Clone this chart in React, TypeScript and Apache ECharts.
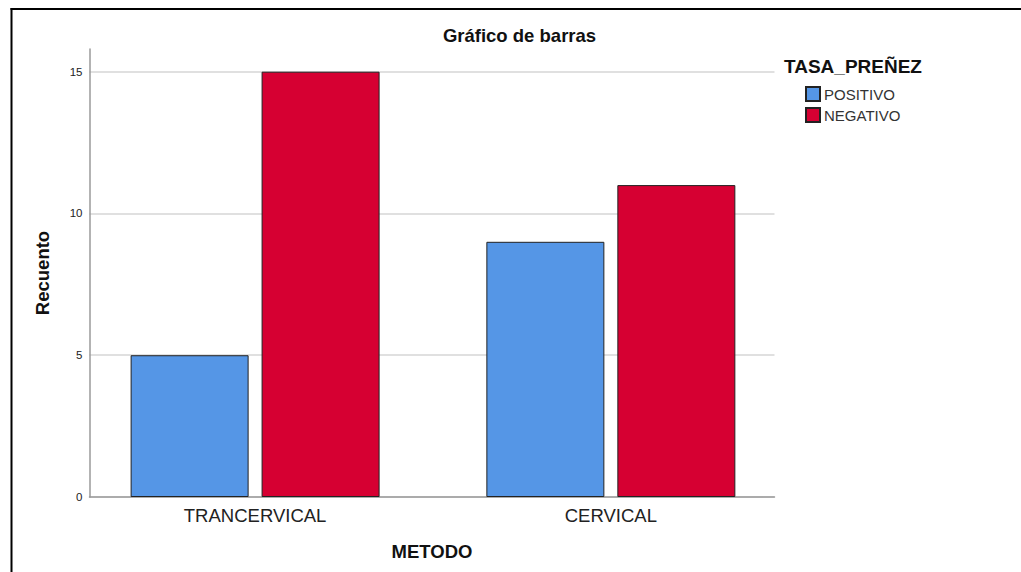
import React, { useEffect, useRef } from "react";
import * as echarts from "echarts";

const categories = ["TRANCERVICAL", "CERVICAL"];
const positivo = [5, 9];
const negativo = [15, 11];
const seriesNames = ["POSITIVO", "NEGATIVO"];
const yLabelValues = [0, 5, 10, 15];

const FONT = "'Liberation Sans', Arial, sans-serif";

export default function App() {
  const ref = useRef<HTMLDivElement>(null);
  useEffect(() => {
    if (!ref.current) return;
    const chart = echarts.init(ref.current, undefined, { renderer: "svg" });
    const option = {
      animation: false,
      backgroundColor: "#ffffff",
      textStyle: { fontFamily: FONT },
      grid: { left: 89.5, top: 49, width: 685, height: 448, containLabel: false },
      xAxis: {
        type: "value",
        min: -0.4655,
        max: 1.46,
        name: "METODO",
        nameLocation: "middle",
        nameGap: 45,
        nameTextStyle: { fontSize: 18.5, fontWeight: "bold", color: "#111", fontFamily: FONT },
        axisLine: { show: true, onZero: false, lineStyle: { color: "#9a9a9a", width: 1.5 } },
        axisTick: { show: false },
        splitLine: { show: false },
        axisLabel: {
          customValues: [0, 1],
          formatter: (v: number) => categories[Math.round(v)] ?? "",
          fontSize: 18.5,
          color: "#222",
          margin: 9,
          fontFamily: FONT,
        },
      },
      yAxis: {
        type: "value",
        min: 0,
        max: 15.8,
        interval: 5,
        name: "Recuento",
        nameLocation: "middle",
        nameRotate: 90,
        nameGap: 38,
        nameTextStyle: { fontSize: 18.5, fontWeight: "bold", color: "#111", fontFamily: FONT },
        axisLine: { show: true, onZero: false, lineStyle: { color: "#9a9a9a", width: 1.5 } },
        axisTick: { show: false },
        axisLabel: {
          showMaxLabel: false,
          formatter: (v: number) => (yLabelValues.includes(v) ? String(v) : ""),
          fontSize: 11.5,
          color: "#222",
          margin: 7,
          fontFamily: FONT,
        },
        splitLine: { show: true, showMaxLine: false, lineStyle: { color: "#d6d6d6", width: 1.5 } },
      },
      legend: {
        orient: "vertical",
        left: 805,
        top: 86,
        padding: 0,
        itemWidth: 14,
        itemHeight: 14,
        itemGap: 5,
        icon: "rect",
        textStyle: { fontSize: 15, color: "#333", fontFamily: FONT, padding: [0, 0, 0, -1] },
        data: seriesNames,
      },
      graphic: [
        { type: "rect", shape: { x: 10.5, y: 8, width: 2, height: 580 }, style: { fill: "#000" } },
        { type: "rect", shape: { x: 10.5, y: 8, width: 1020, height: 2 }, style: { fill: "#000" } },
        {
          type: "text",
          x: 519.5,
          y: 26,
          style: {
            text: "Gráfico de barras",
            align: "center",
            verticalAlign: "top",
            font: `bold 18.5px ${FONT}`,
            fill: "#111",
          },
        },
        {
          type: "text",
          x: 784,
          y: 57,
          style: {
            text: "TASA_PREÑEZ",
            align: "left",
            verticalAlign: "top",
            font: `bold 19px ${FONT}`,
            fill: "#111",
          },
        },
      ],
      series: [
        {
          name: seriesNames[0],
          type: "bar",
          barWidth: 118,
          barGap: "11%",
          data: positivo.map((v, i) => [i, v]),
          itemStyle: { color: "#5596e6", borderColor: "#222", borderWidth: 1 },
        },
        {
          name: seriesNames[1],
          type: "bar",
          barWidth: 118,
          barGap: "11%",
          data: negativo.map((v, i) => [i, v]),
          itemStyle: { color: "#d60032", borderColor: "#222", borderWidth: 1 },
        },
      ],
    };
    chart.setOption(option as any);
    return () => chart.dispose();
  }, []);
  return (
    <div
      ref={ref}
      style={{ position: "fixed", left: 0, top: 0, width: 1021, height: 572, background: "#fff" }}
    />
  );
}
